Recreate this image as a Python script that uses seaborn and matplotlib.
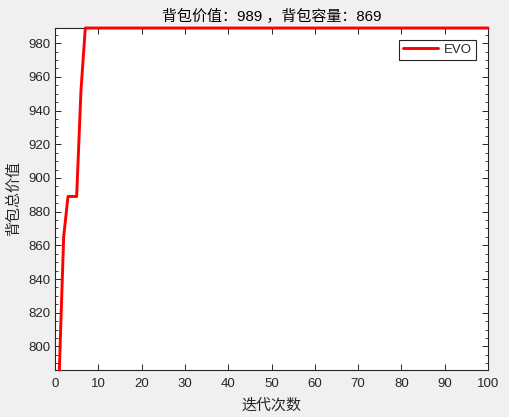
import matplotlib
matplotlib.use("Agg")
import matplotlib.pyplot as plt
import seaborn as sns
import pandas as pd
from matplotlib.ticker import MultipleLocator

# ---- data ----
iterations = list(range(1, 101))
values = [786, 865, 889, 889, 889, 952] + [989] * 94
series_label = "EVO"
title_text = "背包价值：989 ，背包容量：869"
xlabel_text = "迭代次数"
ylabel_text = "背包总价值"
x_ticks = list(range(0, 101, 10))
y_ticks = list(range(800, 981, 20))

df = pd.DataFrame({"iter": iterations, "value": values})

sns.set_theme(style="ticks")
plt.rcParams['font.family'] = ['Liberation Sans', 'Noto Sans CJK SC', 'DejaVu Sans']
plt.rcParams['axes.unicode_minus'] = False

fig = plt.figure(figsize=(5.09, 4.17), dpi=100, facecolor="#f0f0f0")
ax = fig.add_axes([55/509, 47/417, 433/509, 342/417])
ax.set_facecolor("white")

sns.lineplot(data=df, x="iter", y="value", color="#ff0000", linewidth=2.1,
             label=series_label, ax=ax)
for ln in ax.get_lines():
    ln.set_clip_on(False)
    ln.set_zorder(5)

ax.set_xlim(0, 100)
ax.set_ylim(786, 989)
ax.set_xticks(x_ticks)
ax.set_yticks(y_ticks)
ax.yaxis.set_minor_locator(MultipleLocator(5))

dark = "#262626"
for s in ax.spines.values():
    s.set_visible(True)
    s.set_color(dark)
    s.set_linewidth(0.8)
ax.tick_params(axis="both", which="both", direction="in", top=True, right=True,
               colors=dark, labelcolor=dark, labelsize=9.5)
ax.tick_params(axis="both", which="major", length=4, width=0.7)
ax.tick_params(axis="y", which="minor", length=2.2, width=0.6)
ax.tick_params(axis="x", which="major", pad=6)

ax.set_title(title_text, fontsize=10.8, color="#000000", pad=5)
ax.set_xlabel(xlabel_text, fontsize=10.8, color=dark, labelpad=6)
ax.set_ylabel(ylabel_text, fontsize=10.8, color=dark, labelpad=5)

leg = ax.legend(loc="upper right", fontsize=9.5, frameon=True, fancybox=False,
                edgecolor="#262626", framealpha=1.0, handlelength=2.6,
                borderpad=0.3, handletextpad=0.5, borderaxespad=0.9)
leg.get_frame().set_linewidth(0.8)
leg.set_zorder(10)

fig.savefig("out.png", dpi=100, facecolor=fig.get_facecolor())
